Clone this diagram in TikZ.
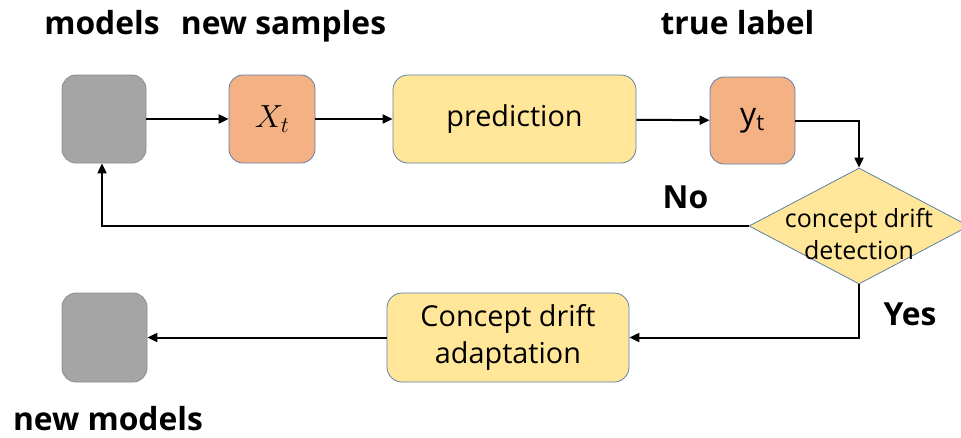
\RequirePackage{fix-cm}
\documentclass[tikz,border=0pt]{standalone}
\usepackage{fontspec}
\setmainfont{Open Sans}
\usetikzlibrary{shapes.geometric,arrows.meta}
\definecolor{modelgray}{HTML}{A5A5A5}
\definecolor{modeledge}{HTML}{8C8C8C}
\definecolor{dataorange}{HTML}{F4B183}
\definecolor{stepyellow}{HTML}{FFE699}
\definecolor{boxedge}{HTML}{5F7FA8}
\tikzset{
  modelbox/.style={draw=modeledge, fill=modelgray, line width=0.8pt, rounded corners=14pt, inner sep=0pt},
  databox/.style={draw=boxedge, fill=dataorange, line width=0.8pt, rounded corners=14pt, inner sep=0pt, font=\fontsize{32}{36}\selectfont},
  stepbox/.style={draw=boxedge, fill=stepyellow, line width=0.8pt, rounded corners=15pt, inner sep=0pt, align=center, font=\fontsize{28.8}{37}\selectfont},
  decision/.style={diamond, draw=boxedge, fill=stepyellow, line width=0.8pt, inner sep=0pt},
  title/.style={anchor=base, font=\bfseries\fontsize{31.8}{36}\selectfont},
  flow/.style={line width=2pt, -{Triangle[length=10pt,width=9pt]}},
}
\begin{document}
\begin{tikzpicture}[x=1pt, y=-1pt]
\useasboundingbox (0,0) rectangle (961,437);

% top row: model, sample, prediction, label
\node[modelbox, minimum width=84pt, minimum height=88pt] (model) at (104,119) {};
\node[databox, minimum width=86pt, minimum height=88pt] (xt) at (272,119) {$X_t$};
\node[stepbox, minimum width=243pt, minimum height=88pt] (pred) at (514.5,119) {prediction};
\node[databox, minimum width=85pt, minimum height=87pt] (yt) at (752.5,120.5) {$\mathrm{y_t}$};

% drift detection
\node[decision, minimum width=220pt, minimum height=116pt] (detect) at (859,226) {};
\node[align=center, font=\fontsize{25}{32}\selectfont] (detecttext) at (859,234) {concept drift\\detection};

% bottom row: adaptation and new model
\node[stepbox, minimum width=242pt, minimum height=89pt] (adapt) at (508,337.5) {Concept drift\\adaptation};
\node[modelbox, minimum width=85pt, minimum height=89pt] (newmodel) at (104.5,337.5) {};

% headings and branch labels
\node[title] (tmodels) at (102,34) {models};
\node[title] (tsamples) at (283.5,34) {new samples};
\node[title] (tlabel) at (737.5,34) {true label};
\node[title] (tnew) at (108,430) {new models};
\node[title] (tno) at (685.5,208) {No};
\node[title] (tyes) at (910,325) {Yes};

% connectors
\draw[flow] (model) -- (xt);
\draw[flow] (xt) -- (pred);
\draw[flow] (pred) -- (yt);
\coordinate (turn1) at (859,121);
\draw[flow] (yt.east |- turn1) -- (turn1) -- (detect.north);
\coordinate (turn2) at (102,226);
\draw[flow] (detect.west) -- (turn2) -- (turn2 |- model.south);
\coordinate (turn3) at (859,337.5);
\draw[flow] (detect.south) -- (turn3) -- (adapt.east);
\draw[flow] (adapt) -- (newmodel);
\end{tikzpicture}
\end{document}
